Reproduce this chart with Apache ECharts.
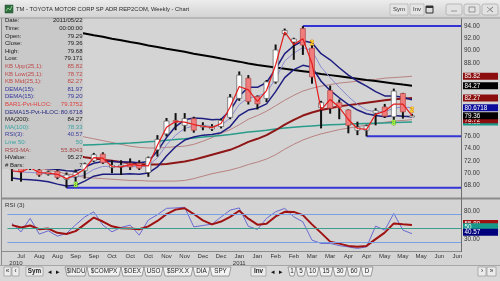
<!DOCTYPE html>
<html><head><meta charset="utf-8">
<script src="https://cdn.jsdelivr.net/npm/echarts@6/dist/echarts.min.js"></script>
<style>html,body{margin:0;padding:0;background:#d4d4d4;overflow:hidden}#c{width:500px;height:281px}</style>
</head><body><div id="c"></div><script>
// ---- tick labels ----
const tickLabels = ['Jul','Aug','Aug','Sep','Sep','Oct','Oct','Oct','Nov','Nov','Dec','Dec','Jan','Jan','Feb','Feb','Mar','Mar','Apr','Apr','May','May','May','Jun','Jun'];
const tickYears = {0:'2010', 12:'2011'};
const priceTickShown = [68,70,72,74,76,88,90,92,94];
const rsiTickShown = [80,30];
const rsiLevels = [75, 50, 25];
// ---- weekly OHLC (TM, Jul 2010 - May 2011) ----
const open  = [70.9,70.9,70.8,70.5,69.8,70.3,69.0,69.4,70.4,72.0,73.1,70.9,71.0,71.6,71.6,70.1,73.8,76.4,78.6,77.8,78.9,77.5,77.2,77.6,79.1,82.2,85.5,82.5,82.2,84.9,92.8,91.4,93.6,90.4,80.7,83.5,81.5,80.3,77.0,77.0,79.8,80.8,79.2,83.0,79.29];
const close = [70.7,70.2,71.0,69.7,70.2,69.3,69.7,70.1,71.5,73.0,71.7,71.3,71.3,71.0,70.8,72.5,75.5,78.5,78.3,78.9,77.0,77.8,77.6,78.6,82.4,86.0,81.7,81.3,84.9,90.1,93.3,91.9,90.9,85.7,81.5,80.6,80.7,77.8,77.5,77.7,80.2,79.3,83.4,80.0,79.36];
const high  = [71.2,71.1,71.2,70.8,70.4,70.6,70.1,70.6,71.7,73.3,73.4,72.1,72.1,72.4,72.1,72.7,76.2,79.0,79.8,79.8,79.2,78.3,78.0,78.9,82.9,86.6,86.0,82.7,85.2,91.0,93.6,92.1,94.0,90.9,81.8,84.3,82.0,80.4,78.4,77.9,80.6,81.3,83.8,83.1,79.68];
const low   = [68.7,68.6,70.5,69.4,69.6,69.0,67.6,68.6,69.1,71.8,71.5,70.0,69.7,70.5,70.5,69.4,72.7,76.0,77.0,76.8,76.6,77.0,76.9,77.3,78.8,81.8,81.2,80.4,81.6,84.6,92.5,88.5,89.3,84.6,77.3,79.7,78.8,76.5,76.2,76.0,77.8,79.0,78.7,78.9,79.171];
// ---- indicators ----
const pivotHLOC = [70.38,70.2,70.88,70.1,70.0,69.8,69.1,69.68,70.68,72.53,72.43,71.08,71.03,71.38,71.25,71.18,74.55,77.48,78.43,78.33,77.93,77.65,77.43,78.1,80.8,84.15,83.6,81.73,83.48,87.65,93.05,90.98,91.95,87.9,80.33,82.03,80.75,78.75,77.28,77.15,79.6,80.1,81.28,81.25,79.38];
const demaHigh = [71.6,71.3,71.1,70.9,70.7,70.6,70.4,70.3,71.0,71.6,71.9,71.9,71.8,71.8,71.7,71.9,73.6,75.8,77.6,78.7,79.0,78.9,78.7,78.8,80.2,82.6,84.0,84.0,84.8,87.0,89.5,90.8,91.6,91.3,89.5,88.5,87.2,86.0,85.0,84.2,83.3,82.6,82.6,82.4,81.97];
const demaLow  = [69.2,69.0,68.9,68.8,68.6,68.2,67.9,68.0,68.7,69.5,69.8,69.8,69.8,69.9,69.8,70.0,71.0,72.8,74.3,75.4,75.9,76.2,76.3,76.6,77.6,79.4,80.3,80.6,81.3,83.3,85.6,86.9,87.6,87.3,85.0,83.5,82.3,81.2,80.3,79.7,79.4,79.2,79.4,79.3,79.2];
const demaPvt  = [70.3,70.2,70.1,70.0,69.9,69.7,69.4,69.3,69.7,70.6,71.1,71.1,71.0,71.1,71.0,71.2,72.5,74.6,76.2,77.3,77.7,77.8,77.6,77.8,79.0,81.2,82.3,82.5,83.2,85.4,88.3,89.6,90.5,90.0,87.3,85.6,84.0,82.5,81.2,80.3,80.0,80.0,80.6,80.8,80.67];
const ma200 = [94.4,94.2,94.0,93.8,93.6,93.4,93.2,93.0,92.8,92.5,92.25,91.95,91.7,91.4,91.15,90.85,90.6,90.3,90.05,89.8,89.5,89.25,89.0,88.7,88.45,88.2,87.9,87.65,87.45,87.25,87.05,86.85,86.65,86.45,86.2,86.0,85.8,85.6,85.4,85.2,85.05,84.85,84.65,84.45,84.27];
const ma100 = [74.4,74.4,74.45,74.5,74.5,74.5,74.55,74.55,74.6,74.65,74.7,74.8,74.85,74.9,75.0,75.1,75.2,75.35,75.5,75.6,75.75,75.9,76.0,76.15,76.3,76.5,76.7,76.85,77.0,77.2,77.35,77.5,77.6,77.7,77.8,77.9,77.95,78.0,78.05,78.1,78.15,78.2,78.25,78.3,78.33];
const kbMid = [75.0,74.7,74.4,74.1,73.8,73.5,73.2,72.9,72.6,72.4,72.2,72.0,71.8,71.6,71.5,71.4,71.4,71.5,71.7,71.9,72.2,72.6,73.0,73.4,73.8,74.4,75.1,75.6,76.2,77.0,77.9,78.7,79.4,79.9,80.3,80.6,80.9,81.1,81.3,81.5,81.7,81.9,82.05,82.15,82.27];
const kbUpper = [78.3,78.0,77.7,77.4,77.1,76.8,76.5,76.2,75.9,75.6,75.3,75.0,74.7,74.4,74.2,74.1,74.1,74.2,74.3,74.4,74.7,75.2,75.8,76.5,77.1,77.9,78.8,79.4,80.1,81.0,81.9,82.7,83.4,83.85,84.2,84.45,84.7,84.85,85.0,85.15,85.3,85.5,85.6,85.7,85.82];
const kbLower = [71.7,71.4,71.1,70.8,70.5,70.2,69.9,69.6,69.3,69.2,69.1,69.0,68.9,68.8,68.8,68.7,68.7,68.7,68.7,68.8,69.1,69.5,69.9,70.2,70.5,70.9,71.4,71.8,72.3,73.0,73.9,74.7,75.4,75.95,76.4,76.75,77.1,77.35,77.6,77.85,78.1,78.3,78.5,78.6,78.72];
const rsi3  = [58.7,43.8,67.5,39.8,45.6,36.2,41.0,56.0,70.0,79.0,55.7,43.8,51.6,55.7,38.0,64.7,74.0,85.3,86.0,87.1,52.6,55.0,57.4,70.0,82.1,86.0,53.5,48.1,67.5,79.2,85.2,70.3,61.5,29.2,23.3,23.3,19.5,17.3,14.5,17.3,53.9,46.8,76.3,46.8,40.57];
const rsiMA = [55.7,51.6,55.0,48.5,49.5,42.0,40.0,45.0,57.0,69.0,62.0,53.5,50.0,49.8,48.3,53.5,63.0,75.0,83.0,85.5,75.2,64.0,57.0,62.0,70.3,81.0,67.0,56.5,58.0,71.0,79.2,79.0,73.3,57.0,42.0,26.5,23.0,19.0,17.3,19.0,31.0,42.5,58.7,57.0,55.8];
// pivot support / resistance lines: [start week, level]
const levelStart = [6, 32, 39];
const levelValue = [67.6, 94.0, 76.0];
// markers
const markerWeek = [33, 44, 7, 42];
const markerValue = [91.3, 80.3, 68.1, 78.1];
const markerText = ['2','2','8','8'];
// last-value boxes
const priceBoxValue = [78.33, 78.72, 79.36, 80.6718, 82.27, 84.27, 85.82];
const priceBoxText  = ['78.33','78.72','79.36','80.6718','82.27','84.27','85.82'];
const priceBoxFill  = ['#17998a','#8c0d0d','#000000','#0c0c9c','#8c0d0d','#000000','#8c0d0d'];
const rsiBoxValue = [55.8043, 50, 40.57];
const rsiBoxText  = ['55.80','50','40.57'];
const rsiBoxFill  = ['#9c1010','#17998a','#00007c'];
// info panel
const infoRows = [
 ['Date:','2011/05/22','#1a1a1a'],['Time:','00:00:00','#1a1a1a'],['Open:','79.29','#1a1a1a'],['Close:','79.36','#1a1a1a'],
 ['High:','79.68','#1a1a1a'],['Low:','79.171','#1a1a1a'],['KB Upp(25,1):','85.82','#c04a4a'],['KB Low(25,1):','78.72','#c04a4a'],
 ['KB Mid(25,1):','82.27','#c04a4a'],['DEMA(15):','81.97','#34349c'],['DEMA(15):','79.20','#34349c'],['BAR1-Pvt-HLOC:','79.3752','#e04040'],
 ['DEMA15-Pvt-HLOC:','80.6718','#2c2c84'],['MA(200):','84.27','#1a1a1a'],['MA(100):','78.33','#3aa4a4'],['RSI(3):','40.57','#3c3c98'],
 ['Line 50:','50','#3aa4a4'],['RSI3-MA:','55.8043','#a84444'],['HValue:','95.27','#1a1a1a'],['# Bars:','7','#1a1a1a']
];
const leftTabs = ['$INDU','$COMPX','$OEX','USO','$SPX.X','DIA','SPY'];
const rightTabs = ['1','5','10','15','30','60','D'];

const FONT = '"Liberation Sans", Arial, sans-serif';
const NSLOT = 50;
const cats = Array.from({length: NSLOT}, (_, i) => String(i));
const chart = echarts.init(document.getElementById('c'), null, {renderer: 'canvas'});

function line(data, color, width, z, gi) {
  return {type:'line', data, xAxisIndex:gi||0, yAxisIndex:gi||0, showSymbol:false, symbol:'none', z,
    lineStyle:{color, width}, silent:true, animation:false};
}
function boxSeries(values, texts, fills, gi, dy) {
  return {type:'custom', xAxisIndex:gi, yAxisIndex:gi, z:20, clip:false, silent:true, animation:false,
    data: values.map((v,i)=>[44, v, i]), encode:{x:0,y:1},
    renderItem(params, api){
      const i = api.value(2);
      const y = api.coord([44, api.value(1)])[1] + dy;
      const cs = params.coordSys;
      const x = cs.x + cs.width + 1;
      return {type:'group', children:[
        {type:'rect', shape:{x, y:y-3.5, width:35, height:7}, style:{fill:fills[i]}},
        {type:'text', style:{text:texts[i], x:x+1.5, y:y+0.3, fill:'#ffffff', font:'6.3px '+FONT, verticalAlign:'middle', align:'left'}}
      ]};
    }};
}

const graphics = [];
graphics.push({type:'rect', shape:{x:0,y:0,width:500,height:18}, style:{fill:new echarts.graphic.LinearGradient(0,0,0,1,[{offset:0,color:'#ececec'},{offset:1,color:'#d2d2d2'}])}, z:100});
graphics.push({type:'line', shape:{x1:0,y1:18,x2:500,y2:18}, style:{stroke:'#9a9a9a', lineWidth:1}, z:101});
graphics.push({type:'rect', shape:{x:5,y:5,width:8,height:8}, style:{fill:'#2f6f3f', stroke:'#1f4f2f', lineWidth:0.5}, z:101});
graphics.push({type:'polyline', shape:{points:[[6,11],[8,8],[10,10],[12,6]]}, style:{stroke:'#9fe09f', lineWidth:0.8, fill:null}, z:102});
graphics.push({type:'text', style:{text:'TM - TOYOTA MOTOR CORP SP ADR REP2COM, Weekly - Chart', x:16, y:9.5, fill:'#2a2a2a', font:'5.8px '+FONT, verticalAlign:'middle'}, z:101});
[[390,'Sym',18],[410,'Inv',14]].forEach(([x,t,w])=>{
  graphics.push({type:'rect', shape:{x,y:4,width:w,height:11}, style:{fill:'#e4e4e4', stroke:'#a8a8a8', lineWidth:0.6}, z:101});
  graphics.push({type:'text', style:{text:t, x:x+w/2, y:9.8, fill:'#333', font:'6px '+FONT, align:'center', verticalAlign:'middle'}, z:102});
});
graphics.push({type:'rect', shape:{x:426,y:6,width:7,height:7}, style:{fill:'none', stroke:'#333', lineWidth:1}, z:101});
graphics.push({type:'rect', shape:{x:426,y:6,width:7,height:2}, style:{fill:'#333'}, z:101});
[446,464,482].forEach((x,i)=>{
  graphics.push({type:'rect', shape:{x,y:4,width:16,height:11, r:2}, style:{fill:'#e2e2e2', stroke:'#a0a0a0', lineWidth:0.6}, z:101});
  const g = i===0 ? {type:'line', shape:{x1:x+5,y1:11,x2:x+11,y2:11}} : i===1 ? {type:'rect', shape:{x:x+5,y:7,width:6,height:5}} : {type:'polyline', shape:{points:[[x+5,7],[x+11,12],[x+8,9.5],[x+11,7],[x+5,12]]}};
  g.style = {stroke:'#777', fill:'none', lineWidth:0.7}; g.z = 102; graphics.push(g);
});
graphics.push({type:'line', shape:{x1:1.5,y1:18,x2:1.5,y2:281}, style:{stroke:'#8a8a8a', lineWidth:1}, z:100});
graphics.push({type:'rect', shape:{x:2,y:197.6,width:498,height:2}, style:{fill:'#8c8c8c'}, z:100});
graphics.push({type:'line', shape:{x1:2,y1:251.5,x2:461,y2:251.5}, style:{stroke:'#8c8c8c', lineWidth:1}, z:100});
graphics.push({type:'line', shape:{x1:461.5,y1:18,x2:461.5,y2:252}, style:{stroke:'#6e6e6e', lineWidth:1}, z:100});
graphics.push({type:'text', style:{text:'RSI (3)', x:5, y:205, fill:'#333', font:'6.2px '+FONT, verticalAlign:'middle'}, z:100});
graphics.push({type:'rect', shape:{x:2,y:18.5,width:81,height:150.5}, style:{fill:'#c9c9c9'}, z:100});
infoRows.forEach((r, i) => {
  const y = 20.8 + i * 7.6;
  graphics.push({type:'text', style:{text:r[0], x:5, y, fill:r[2], font:'6px '+FONT, verticalAlign:'middle'}, z:101});
  graphics.push({type:'text', style:{text:r[1], x:82.5, y, fill:r[2], font:'6px '+FONT, verticalAlign:'middle', align:'right'}, z:101});
});
graphics.push({type:'rect', shape:{x:0,y:265,width:500,height:16}, style:{fill:'#d8d8d8'}, z:100});
graphics.push({type:'line', shape:{x1:0,y1:265.5,x2:500,y2:265.5}, style:{stroke:'#a6a6a6', lineWidth:1}, z:101});
function btn(x,w,t,bold){
  graphics.push({type:'rect', shape:{x,y:267,width:w,height:9}, style:{fill:'#ececec', stroke:'#8a8a8a', lineWidth:0.6}, z:101});
  graphics.push({type:'text', style:{text:t, x:x+w/2, y:271.7, fill:'#222', font:(bold?'bold ':'')+'6.3px '+FONT, align:'center', verticalAlign:'middle'}, z:102});
}
btn(4,7,'\u00ab'); btn(12,7,'\u2039'); btn(26,17,'Sym',true); btn(251,15,'Inv',true); btn(478,8,'\u203a'); btn(487,9,'\u00bb');
[[50,'\u25c2'],[58,'\u25b8'],[273,'\u25c2'],[281,'\u25b8']].forEach(([x,t])=>graphics.push({type:'text', style:{text:t, x, y:271.8, fill:'#111', font:'7px '+FONT, align:'center', verticalAlign:'middle'}, z:102}));
function tabs(list, x0, widths){
  let x = x0;
  list.forEach((t, i) => {
    const w = widths[i];
    graphics.push({type:'polygon', shape:{points:[[x,267],[x+w,267],[x+w-2,276],[x+2,276]]}, style:{fill:'#f2f2f2', stroke:'#6a6a6a', lineWidth:0.6}, z:101});
    graphics.push({type:'text', style:{text:t, x:x+w/2, y:271.7, fill:'#222', font:'6.3px '+FONT, align:'center', verticalAlign:'middle'}, z:102});
    x += w;
  });
}
tabs(leftTabs, 65, [22,34,23,19,30,17,21]);
tabs(rightTabs, 288, [8,10,13,14,14,14,12]);

const option = {
  animation:false,
  backgroundColor:'#d4d4d4',
  textStyle:{fontFamily:FONT},
  grid:[
    {left:7.4, right:38, top:20, height:177.6},
    {left:7.4, right:38, top:200, height:51}
  ],
  xAxis:[
    {type:'category', gridIndex:0, data:cats, boundaryGap:true, axisLine:{show:false}, axisTick:{show:false}, axisLabel:{show:false}, splitLine:{show:false}},
    {type:'category', gridIndex:1, data:cats, boundaryGap:true, axisLine:{show:false}, axisTick:{show:false}, splitLine:{show:false},
     axisLabel:{show:true, hideOverlap:false, margin:2.5, interval:(i)=> i % 2 === 1, color:'#333', fontSize:6,
       formatter:(v)=>{ const j=(Number(v)-1)/2; const m=tickLabels[j]; const y=tickYears[j];
         return y ? '{m|'+m+'}\n{'+(j===0?'y0':'y')+'|'+y+'}' : '{m|'+m+'}'; },
       rich:{m:{fontSize:6,color:'#333',lineHeight:6.5}, y:{fontSize:6,color:'#333',lineHeight:6}, y0:{fontSize:6,color:'#333',lineHeight:6,padding:[0,10,0,0]}}}}
  ],
  yAxis:[
    {type:'value', gridIndex:0, position:'right', min:66, max:95, interval:2, splitLine:{show:false}, axisTick:{show:false}, axisLine:{show:false},
     axisLabel:{margin:2, color:'#333', fontSize:6.3, formatter:(v)=> priceTickShown.includes(v) ? v.toFixed(2) : ''}},
    {type:'value', gridIndex:1, position:'right', min:10, max:100, interval:10, splitLine:{show:false}, axisTick:{show:false}, axisLine:{show:false},
     axisLabel:{margin:2, color:'#333', fontSize:6.3, padding:[0,0,4,0], formatter:(v)=> rsiTickShown.includes(v) ? v.toFixed(2) : ''}}
  ],
  series:[
    line(kbUpper, '#b98282', 1, 2),
    line(kbLower, '#b98282', 1, 2),
    line(ma100, '#2a9c8c', 1.5, 2),
    line(kbMid, '#8e1616', 2, 2),
    line(ma200, '#000000', 2, 2),
    line(demaPvt, '#8a8ad0', 1, 3),
    line(demaHigh, '#1e1e80', 1.5, 3),
    line(demaLow, '#1e1e80', 1.5, 3),
    {type:'custom', xAxisIndex:0, yAxisIndex:0, z:4, silent:true, animation:false,
     data: levelStart.map((k,i)=>[k, levelValue[i]]), encode:{x:0,y:1},
     renderItem(params, api){
       const p = api.coord([api.value(0), api.value(1)]);
       const cs = params.coordSys;
       return {type:'line', shape:{x1:p[0], y1:p[1], x2:cs.x+cs.width, y2:p[1]}, style:{stroke:'#3434d4', lineWidth:2}};
     }},
    {type:'custom', xAxisIndex:0, yAxisIndex:0, z:5, silent:true, animation:false,
     data: open.map((o,i)=>[i, o, close[i], low[i], high[i]]), encode:{x:0, y:[1,2,3,4]},
     renderItem(params, api){
       const k = api.value(0);
       const o = api.coord([k, api.value(1)]), c = api.coord([k, api.value(2)]);
       const l = api.coord([k, api.value(3)]), h = api.coord([k, api.value(4)]);
       const up = api.value(2) >= api.value(1);
       const top = Math.min(o[1], c[1]), bot = Math.max(o[1], c[1]);
       const w = 5;
       return {type:'group', children:[
         {type:'line', shape:{x1:h[0], y1:h[1], x2:l[0], y2:l[1]}, style:{stroke:'#111111', lineWidth:2}},
         {type:'rect', shape:{x:o[0]-w/2, y:top, width:w, height:Math.max(bot-top, 1.2)},
          style:{fill: up ? '#ffffff' : '#f07c7c', stroke: up ? '#5a5a5a' : '#b04848', lineWidth:0.7}}
       ]};
     }},
    line(pivotHLOC, '#e41c1c', 1.2, 6),
    {type:'custom', xAxisIndex:0, yAxisIndex:0, z:7, silent:true, animation:false,
     data: markerWeek.map((k,i)=>[k, markerValue[i], i]), encode:{x:0,y:1},
     renderItem(params, api){
       const i = api.value(2);
       const p = api.coord([api.value(0), api.value(1)]);
       const yellow = markerText[i] === '2';
       return {type:'text', style:{text:markerText[i], x:p[0], y:p[1], align:'center', verticalAlign:'middle',
         font:'bold 7px '+FONT, fill: yellow ? '#ffe23a' : '#b4ff50', stroke: yellow ? '#d87a00' : '#4c9a10', lineWidth:0.8}};
     }},
    boxSeries(priceBoxValue, priceBoxText, priceBoxFill, 0, 0),
    {type:'line', data:rsi3, xAxisIndex:1, yAxisIndex:1, showSymbol:false, symbol:'none', z:3, silent:true, animation:false,
     lineStyle:{color:'#6a6ad2', width:1},
     markLine:{silent:true, symbol:'none', label:{show:false}, animation:false,
       data: rsiLevels.map(v=>({yAxis:v, lineStyle:{color: v===50 ? '#3e9e8e' : '#78a0e4', width:1, type:'solid'}}))}},
    line(rsiMA, '#a01212', 2, 4, 1),
    boxSeries(rsiBoxValue, rsiBoxText, rsiBoxFill, 1, -1.5)
  ],
  graphic: graphics
};
chart.setOption(option);
</script></body></html>
